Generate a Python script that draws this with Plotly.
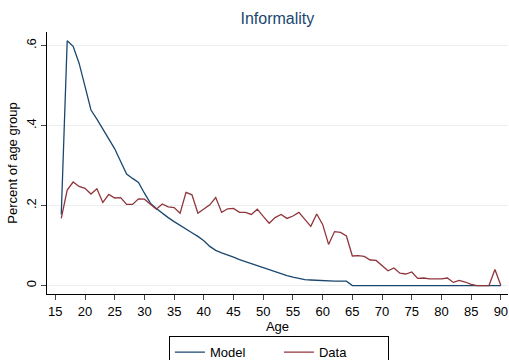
import plotly.graph_objects as go

ages = list(range(16, 91))

model = [0.178, 0.612, 0.598, 0.556, 0.498, 0.439, 0.416, 0.391, 0.366, 0.342,
         0.310, 0.279, 0.268, 0.258, 0.231, 0.206, 0.193, 0.181, 0.170, 0.160,
         0.150, 0.141, 0.132, 0.123, 0.112, 0.098, 0.088, 0.082, 0.077, 0.071,
         0.065, 0.060, 0.054, 0.049, 0.044, 0.039, 0.035, 0.030, 0.025, 0.021,
         0.018, 0.015, 0.014, 0.013, 0.012, 0.011, 0.011, 0.011, 0.011,
         0, 0, 0, 0, 0, 0, 0, 0, 0, 0, 0, 0, 0, 0, 0, 0, 0, 0, 0, 0, 0, 0, 0, 0, 0, 0, 0]

data = [0.168, 0.239, 0.259, 0.248, 0.243, 0.229, 0.242, 0.208, 0.228, 0.219,
        0.220, 0.203, 0.203, 0.217, 0.216, 0.203, 0.191, 0.204, 0.197, 0.195,
        0.181, 0.233, 0.227, 0.181, 0.191, 0.202, 0.220, 0.183, 0.192, 0.193,
        0.183, 0.183, 0.178, 0.191, 0.173, 0.156, 0.170, 0.178, 0.168, 0.174,
        0.183, 0.166, 0.148, 0.179, 0.153, 0.103, 0.135, 0.133, 0.124, 0.074,
        0.075, 0.073, 0.064, 0.063, 0.050, 0.037, 0.044, 0.031, 0.029, 0.034,
        0.018, 0.019, 0.017, 0.017, 0.017, 0.019, 0.008, 0.013, 0.009, 0.003,
        0.0, 0.0, 0.0, 0.040, 0.0]

x_ticks = list(range(15, 91, 5))
y_ticks = [0, 0.2, 0.4, 0.6]
y_labels = ["0", ".2", ".4", ".6"]

BLUE = "#1a476f"
RED = "#90353b"
FONT = "Liberation Sans, Arial, sans-serif"

fig = go.Figure()
fig.add_trace(go.Scatter(x=ages, y=model, mode="lines", name="Model",
                         line=dict(color=BLUE, width=1.3)))
fig.add_trace(go.Scatter(x=ages, y=data, mode="lines", name="Data",
                         line=dict(color=RED, width=1.3)))

fig.update_layout(
    width=509, height=360,
    margin=dict(l=47, r=1, t=32, b=66, autoexpand=False),
    paper_bgcolor="white", plot_bgcolor="white",
    font=dict(family=FONT, size=13, color="black"),
    title=dict(text="Informality", x=0.545, xanchor="center", y=0.95, yanchor="middle",
               font=dict(size=16, color=BLUE)),
    showlegend=True,
    legend=dict(orientation="h", xref="container", x=0.548, xanchor="center",
                yref="container", y=0.066, yanchor="top",
                bordercolor="black", borderwidth=1, font=dict(size=13),
                entrywidth=64, tracegroupgap=0),
)
fig.update_xaxes(range=[13.6, 91.2], tickvals=x_ticks, ticks="outside", ticklen=5,
                 showline=True, linecolor="black", linewidth=1, showgrid=False,
                 zeroline=False, title=dict(text="Age", standoff=2, font=dict(size=13)),
                 tickfont=dict(size=13))
fig.update_yaxes(range=[-0.021, 0.634], tickvals=y_ticks, ticktext=y_labels,
                 tickangle=-90, ticks="outside", ticklen=5,
                 showline=True, linecolor="black", linewidth=1,
                 showgrid=True, gridcolor="#eaf0f1", gridwidth=1, zeroline=False,
                 title=dict(text="Percent of age group", standoff=3, font=dict(size=13)),
                 tickfont=dict(size=13))

fig.write_html("out.html")
